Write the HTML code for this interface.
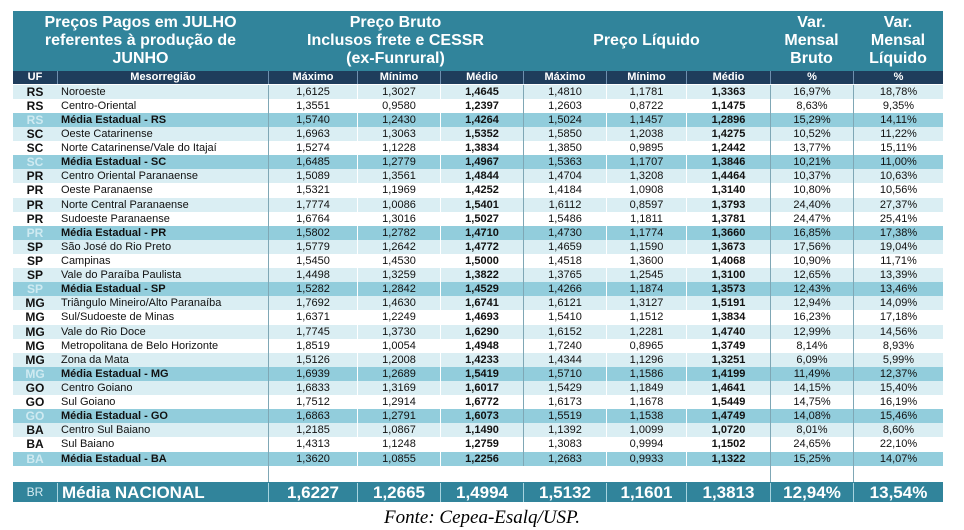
<!DOCTYPE html>
<html><head><meta charset="utf-8">
<style>
body{margin:0;width:964px;height:530px;background:#fff;position:relative;overflow:hidden;font-family:"Liberation Sans",Arial,sans-serif}
.a{position:absolute;box-sizing:border-box}
.h{color:#fff;font-weight:bold;font-size:16px;line-height:18px;text-align:center;display:flex;align-items:center;justify-content:center}
.s{color:#fff;font-weight:bold;font-size:11px;text-align:center;line-height:13px;top:71px;height:13px}
.c{font-size:11px;line-height:14px;text-align:center;color:#111;white-space:nowrap}
.t{color:#fff;font-size:17px;font-weight:bold;text-align:center;line-height:19px;top:483px;height:19px}
</style></head><body>
<div class="a" style="left:13px;top:11px;width:930px;height:60px;background:#31849b"></div>
<div class="a h" style="left:13px;top:11px;width:255px;height:60px">Preços Pagos em JULHO<br>referentes à produção de<br>JUNHO</div>
<div class="a h" style="left:268px;top:11px;width:255px;height:60px">Preço Bruto<br>Inclusos frete e CESSR<br>(ex-Funrural)</div>
<div class="a h" style="left:523px;top:11px;width:247px;height:60px">Preço Líquido</div>
<div class="a h" style="left:770px;top:11px;width:83px;height:60px">Var.<br>Mensal<br>Bruto</div>
<div class="a h" style="left:853px;top:11px;width:90px;height:60px">Var.<br>Mensal<br>Líquido</div>
<div class="a" style="left:13px;top:71px;width:930px;height:13px;background:#1f3d5c"></div>
<div id="sub"></div>
<div id="rows"></div>
<div class="a" style="left:13px;top:466px;width:930px;height:16px;background:#fff"></div>
<div class="a" style="left:13px;top:482px;width:930px;height:20px;background:#31849b"></div>
<div id="tot"></div>
<div class="a" style="left:0;top:507px;width:964px;text-align:center;font-family:'Liberation Serif',serif;font-style:italic;font-size:19px">Fonte: Cepea-Esalq/USP.</div>
<script>
const colX=[13,57,268,357,440,523,606,686,770,853,943];
const subLabels=["UF","Mesorregião","Máximo","Mínimo","Médio","Máximo","Mínimo","Médio","%","%"];
const ufs=["RS","RS","RS","SC","SC","SC","PR","PR","PR","PR","PR","SP","SP","SP","SP","MG","MG","MG","MG","MG","MG","GO","GO","GO","BA","BA","BA"];
const regions=["Noroeste","Centro-Oriental","Média Estadual - RS","Oeste Catarinense","Norte Catarinense/Vale do Itajaí","Média Estadual - SC","Centro Oriental Paranaense","Oeste Paranaense","Norte Central Paranaense","Sudoeste Paranaense","Média Estadual - PR","São José do Rio Preto","Campinas","Vale do Paraíba Paulista","Média Estadual - SP","Triângulo Mineiro/Alto Paranaíba","Sul/Sudoeste de Minas","Vale do Rio Doce","Metropolitana de Belo Horizonte","Zona da Mata","Média Estadual - MG","Centro Goiano","Sul Goiano","Média Estadual - GO","Centro Sul Baiano","Sul Baiano","Média Estadual - BA"];
const brutoMax=["1,6125","1,3551","1,5740","1,6963","1,5274","1,6485","1,5089","1,5321","1,7774","1,6764","1,5802","1,5779","1,5450","1,4498","1,5282","1,7692","1,6371","1,7745","1,8519","1,5126","1,6939","1,6833","1,7512","1,6863","1,2185","1,4313","1,3620"];
const brutoMin=["1,3027","0,9580","1,2430","1,3063","1,1228","1,2779","1,3561","1,1969","1,0086","1,3016","1,2782","1,2642","1,4530","1,3259","1,2842","1,4630","1,2249","1,3730","1,0054","1,2008","1,2689","1,3169","1,2914","1,2791","1,0867","1,1248","1,0855"];
const brutoMed=["1,4645","1,2397","1,4264","1,5352","1,3834","1,4967","1,4844","1,4252","1,5401","1,5027","1,4710","1,4772","1,5000","1,3822","1,4529","1,6741","1,4693","1,6290","1,4948","1,4233","1,5419","1,6017","1,6772","1,6073","1,1490","1,2759","1,2256"];
const liqMax=["1,4810","1,2603","1,5024","1,5850","1,3850","1,5363","1,4704","1,4184","1,6112","1,5486","1,4730","1,4659","1,4518","1,3765","1,4266","1,6121","1,5410","1,6152","1,7240","1,4344","1,5710","1,5429","1,6173","1,5519","1,1392","1,3083","1,2683"];
const liqMin=["1,1781","0,8722","1,1457","1,2038","0,9895","1,1707","1,3208","1,0908","0,8597","1,1811","1,1774","1,1590","1,3600","1,2545","1,1874","1,3127","1,1512","1,2281","0,8965","1,1296","1,1586","1,1849","1,1678","1,1538","1,0099","0,9994","0,9933"];
const liqMed=["1,3363","1,1475","1,2896","1,4275","1,2442","1,3846","1,4464","1,3140","1,3793","1,3781","1,3660","1,3673","1,4068","1,3100","1,3573","1,5191","1,3834","1,4740","1,3749","1,3251","1,4199","1,4641","1,5449","1,4749","1,0720","1,1502","1,1322"];
const varBruto=["16,97%","8,63%","15,29%","10,52%","13,77%","10,21%","10,37%","10,80%","24,40%","24,47%","16,85%","17,56%","10,90%","12,65%","12,43%","12,94%","16,23%","12,99%","8,14%","6,09%","11,49%","14,15%","14,75%","14,08%","8,01%","24,65%","15,25%"];
const varLiq=["18,78%","9,35%","14,11%","11,22%","15,11%","11,00%","10,63%","10,56%","27,37%","25,41%","17,38%","19,04%","11,71%","13,39%","13,46%","14,09%","17,18%","14,56%","8,93%","5,99%","12,37%","15,40%","16,19%","15,46%","8,60%","22,10%","14,07%"];
const totals=["BR","Média NACIONAL","1,6227","1,2665","1,4994","1,5132","1,1601","1,3813","12,94%","13,54%"];
const colNames=["uf","region","bruto-max","bruto-min","bruto-med","liq-max","liq-min","liq-med","var-bruto","var-liquido"];

const sub=document.getElementById('sub');
subLabels.forEach((t,i)=>{
  const d=document.createElement('div');d.className='a s';
  
  
  d.style.left=colX[i]+'px';d.style.width=(colX[i+1]-colX[i])+'px';
  if(i>0)d.style.borderLeft='1px solid #6f8fae';
  d.textContent=t;sub.appendChild(d);
});
const rows=document.getElementById('rows');
const top0=84.6, rh=14.115;
let alt=0;
regions.forEach((r,k)=>{
  const media=r.startsWith('Média');
  const y=top0+k*rh;
  const bg=media?'#92cddc':(alt%2===0?'#daeef3':'#ffffff');
  alt=media?0:alt+1;
  const row=document.createElement('div');row.className='a';
  
  
  row.style.cssText=`left:13px;top:${y}px;width:930px;height:${rh+0.5}px;background:${bg}`;
  rows.appendChild(row);
  const vals=[ufs[k],r,brutoMax[k],brutoMin[k],brutoMed[k],liqMax[k],liqMin[k],liqMed[k],varBruto[k],varLiq[k]];
  vals.forEach((v,i)=>{
    const c=document.createElement('div');c.className='a c';
    
    
    c.style.left=colX[i]+'px';c.style.top=y+'px';c.style.width=(colX[i+1]-colX[i])+'px';c.style.height=rh+'px';
    if(i===0){c.style.fontWeight='bold';c.style.fontSize='12px';if(media)c.style.color='#cfeaf1';}
    if(i===1){c.style.textAlign='left';c.style.paddingLeft='4px';if(media)c.style.fontWeight='bold';}
    if(i===4||i===7)c.style.fontWeight='bold';
    if(i>=2)c.style.borderLeft=([2,5,8,9].includes(i))?'1px solid #7fa7b5':'1px solid #ffffff';
    c.textContent=v;rows.appendChild(c);
  });
});
[2,8,9].forEach(i=>{
  const l=document.createElement('div');l.className='a';
  
  
  l.style.cssText=`left:${colX[i]}px;top:466px;width:1px;height:16px;background:#7fa7b5`;
  document.body.appendChild(l);
});
const tot=document.getElementById('tot');
totals.forEach((t,i)=>{
  const d=document.createElement('div');d.className='a t';
  
  
  d.style.left=colX[i]+'px';d.style.width=(colX[i+1]-colX[i])+'px';
  if(i===0){d.style.fontSize='12px';d.style.fontWeight='normal';d.style.color='#d5ecf2';}
  if(i===1){d.style.textAlign='left';d.style.paddingLeft='4px';}
  if(i>0)d.style.borderLeft='1px solid #a8d4df';
  d.textContent=t;tot.appendChild(d);
});
</script>
</body></html>
